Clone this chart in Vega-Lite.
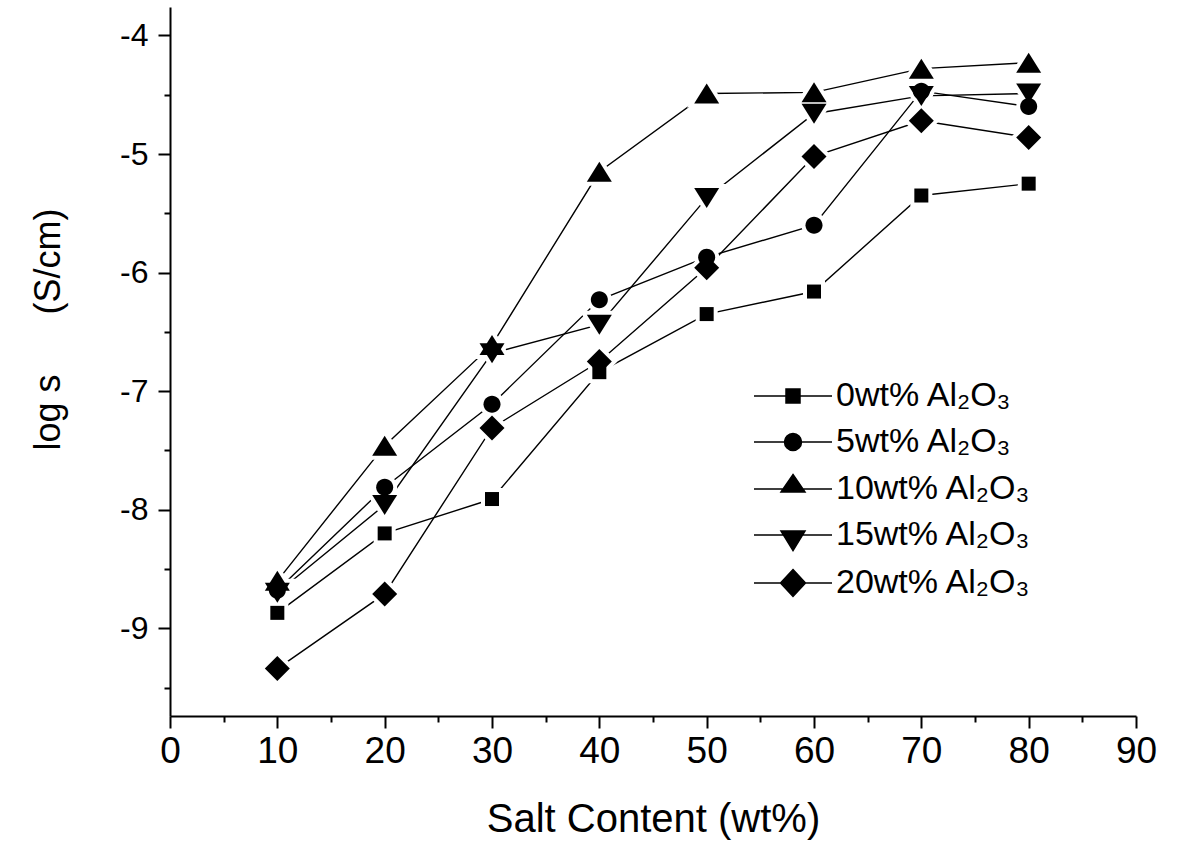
{
  "$schema": "https://vega.github.io/schema/vega-lite/v6.json",
  "width": 966,
  "height": 709,
  "autosize": {"type": "none"},
  "padding": {"left": 170, "top": 7, "right": 64, "bottom": 145},
  "background": "white",
  "config": {
    "view": {"stroke": null},
    "font": "Liberation Sans",
    "axis": {
      "grid": false,
      "domainColor": "black",
      "domainWidth": 2,
      "tickColor": "black",
      "tickWidth": 2,
      "labelColor": "black",
      "titleColor": "black",
      "labelFont": "Liberation Sans",
      "titleFont": "Liberation Sans",
      "titleFontWeight": "normal",
      "labelFlush": false,
      "labelOverlap": false
    }
  },
  "data": {
    "values": [
      {"series": "0wt% Al₂O₃", "x": 10, "y": -8.87},
      {"series": "0wt% Al₂O₃", "x": 20, "y": -8.20},
      {"series": "0wt% Al₂O₃", "x": 30, "y": -7.91},
      {"series": "0wt% Al₂O₃", "x": 40, "y": -6.84},
      {"series": "0wt% Al₂O₃", "x": 50, "y": -6.35},
      {"series": "0wt% Al₂O₃", "x": 60, "y": -6.16},
      {"series": "0wt% Al₂O₃", "x": 70, "y": -5.35},
      {"series": "0wt% Al₂O₃", "x": 80, "y": -5.25},
      {"series": "5wt% Al₂O₃", "x": 10, "y": -8.68},
      {"series": "5wt% Al₂O₃", "x": 20, "y": -7.81},
      {"series": "5wt% Al₂O₃", "x": 30, "y": -7.11},
      {"series": "5wt% Al₂O₃", "x": 40, "y": -6.23},
      {"series": "5wt% Al₂O₃", "x": 50, "y": -5.87},
      {"series": "5wt% Al₂O₃", "x": 60, "y": -5.60},
      {"series": "5wt% Al₂O₃", "x": 70, "y": -4.47},
      {"series": "5wt% Al₂O₃", "x": 80, "y": -4.60},
      {"series": "10wt% Al₂O₃", "x": 10, "y": -8.60},
      {"series": "10wt% Al₂O₃", "x": 20, "y": -7.46},
      {"series": "10wt% Al₂O₃", "x": 30, "y": -6.61},
      {"series": "10wt% Al₂O₃", "x": 40, "y": -5.15},
      {"series": "10wt% Al₂O₃", "x": 50, "y": -4.49},
      {"series": "10wt% Al₂O₃", "x": 60, "y": -4.48},
      {"series": "10wt% Al₂O₃", "x": 70, "y": -4.28},
      {"series": "10wt% Al₂O₃", "x": 80, "y": -4.23},
      {"series": "15wt% Al₂O₃", "x": 10, "y": -8.70},
      {"series": "15wt% Al₂O₃", "x": 20, "y": -7.96},
      {"series": "15wt% Al₂O₃", "x": 30, "y": -6.68},
      {"series": "15wt% Al₂O₃", "x": 40, "y": -6.44},
      {"series": "15wt% Al₂O₃", "x": 50, "y": -5.37},
      {"series": "15wt% Al₂O₃", "x": 60, "y": -4.66},
      {"series": "15wt% Al₂O₃", "x": 70, "y": -4.51},
      {"series": "15wt% Al₂O₃", "x": 80, "y": -4.49},
      {"series": "20wt% Al₂O₃", "x": 10, "y": -9.34},
      {"series": "20wt% Al₂O₃", "x": 20, "y": -8.71},
      {"series": "20wt% Al₂O₃", "x": 30, "y": -7.31},
      {"series": "20wt% Al₂O₃", "x": 40, "y": -6.75},
      {"series": "20wt% Al₂O₃", "x": 50, "y": -5.96},
      {"series": "20wt% Al₂O₃", "x": 60, "y": -5.02},
      {"series": "20wt% Al₂O₃", "x": 70, "y": -4.72},
      {"series": "20wt% Al₂O₃", "x": 80, "y": -4.86}
    ]
  },
  "layer": [
    {
      "mark": {"type": "line", "color": "black", "strokeWidth": 1.4},
      "encoding": {
        "x": {
          "field": "x", "type": "quantitative",
          "scale": {"domain": [0, 90], "nice": false, "zero": false},
          "axis": {
            "orient": "bottom",
            "values": [0, 10, 20, 30, 40, 50, 60, 70, 80, 90],
            "tickSize": 12,
            "labelFontSize": 37,
            "labelPadding": 5,
            "title": "Salt Content (wt%)",
            "titleFontSize": 40,
            "titlePadding": 30
          }
        },
        "y": {
          "field": "y", "type": "quantitative",
          "scale": {"domain": [-9.74, -3.76], "nice": false, "zero": false},
          "axis": {
            "orient": "left",
            "values": [-9, -8, -7, -6, -5, -4],
            "labelExpr": "toString(datum.value)",
            "tickSize": 12,
            "labelFontSize": 32,
            "labelPadding": 10,
            "title": "log s\u00a0\u00a0\u00a0\u00a0\u00a0 (S/cm)",
            "titleFontSize": 36,
            "titleX": -122,
            "titleY": 322,
            "titleAngle": -90,
            "titleAlign": "center",
            "titleBaseline": "middle"
          }
        },
        "detail": {"field": "series", "type": "nominal"}
      }
    },
    {
      "mark": {"type": "point", "filled": true, "fill": "white", "stroke": "white", "strokeWidth": 8, "size": 625, "opacity": 1},
      "encoding": {
        "x": {
          "field": "x", "type": "quantitative",
          "scale": {"domain": [0, 90], "nice": false, "zero": false},
          "axis": {
            "orient": "bottom",
            "values": [5, 15, 25, 35, 45, 55, 65, 75, 85],
            "tickSize": 6,
            "labels": false,
            "domain": false,
            "title": null
          }
        },
        "y": {
          "field": "y", "type": "quantitative",
          "scale": {"domain": [-9.74, -3.76], "nice": false, "zero": false},
          "axis": {
            "orient": "left",
            "values": [-9.5, -8.5, -7.5, -6.5, -5.5, -4.5],
            "tickSize": 6,
            "labels": false,
            "domain": false,
            "title": null
          }
        },
        "shape": {
          "field": "series", "type": "nominal", "legend": null,
          "scale": {
            "domain": ["0wt% Al₂O₃", "5wt% Al₂O₃", "10wt% Al₂O₃", "15wt% Al₂O₃", "20wt% Al₂O₃"],
            "range": [
              "M-0.56,-0.56H0.56V0.56H-0.56Z",
              "M-0.68,0A0.68,0.68,0,1,1,0.68,0A0.68,0.68,0,1,1,-0.68,0Z",
              "M0,-0.8L1,0.8L-1,0.8Z",
              "M0,0.8L1,-0.8L-1,-0.8Z",
              "M0,-1L1,0L0,1L-1,0Z"
            ]
          }
        }
      }
    },
    {
      "mark": {"type": "point", "filled": true, "fill": "black", "strokeWidth": 0, "size": 625, "opacity": 1},
      "encoding": {
        "x": {"field": "x", "type": "quantitative", "scale": {"domain": [0, 90], "nice": false, "zero": false}, "axis": null},
        "y": {"field": "y", "type": "quantitative", "scale": {"domain": [-9.74, -3.76], "nice": false, "zero": false}, "axis": null},
        "shape": {
          "field": "series", "type": "nominal", "legend": null,
          "scale": {
            "domain": ["0wt% Al₂O₃", "5wt% Al₂O₃", "10wt% Al₂O₃", "15wt% Al₂O₃", "20wt% Al₂O₃"],
            "range": [
              "M-0.56,-0.56H0.56V0.56H-0.56Z",
              "M-0.68,0A0.68,0.68,0,1,1,0.68,0A0.68,0.68,0,1,1,-0.68,0Z",
              "M0,-0.8L1,0.8L-1,0.8Z",
              "M0,0.8L1,-0.8L-1,-0.8Z",
              "M0,-1L1,0L0,1L-1,0Z"
            ]
          }
        }
      }
    },
    {
      "data": {"values": []},
      "mark": {"type": "point", "filled": false, "stroke": "black", "strokeWidth": 1.5, "opacity": 1},
      "encoding": {
        "shape": {
          "field": "series", "type": "nominal",
          "scale": {
            "domain": ["0wt% Al₂O₃", "5wt% Al₂O₃", "10wt% Al₂O₃", "15wt% Al₂O₃", "20wt% Al₂O₃"],
            "range": [
              "M-3.9,0H3.9M-0.7,-0.7H0.7V0.7H-0.7Z",
              "M-3.9,0H3.9M-0.85,0A0.85,0.85,0,1,1,0.85,0A0.85,0.85,0,1,1,-0.85,0Z",
              "M-3.9,0H3.9M0,-1.45L1.2,0.3L-1.2,0.3Z",
              "M-3.9,0H3.9M0,1.55L1.2,-0.4L-1.2,-0.4Z",
              "M-3.9,0H3.9M0,-1.35L1.25,0L0,1.35L-1.25,0Z"
            ]
          },
          "legend": {
            "orient": "none",
            "legendX": 606,
            "legendY": 372,
            "title": null,
            "padding": 0,
            "symbolSize": 400,
            "symbolStrokeColor": "black",
            "symbolStrokeWidth": 1.5,
            "symbolOpacity": 1,
            "labelFont": "Liberation Sans",
            "labelFontSize": 34,
            "labelColor": "black",
            "labelOpacity": 0,
            "labelOffset": 26,
            "labelLimit": 0,
            "rowPadding": 12
          }
        }
      }
    },
    {
      "data": {"values": []},
      "mark": {"type": "point", "filled": true, "fill": "black", "opacity": 1},
      "encoding": {
        "shape": {
          "field": "series", "type": "nominal",
          "scale": {
            "domain": ["0wt% Al₂O₃", "5wt% Al₂O₃", "10wt% Al₂O₃", "15wt% Al₂O₃", "20wt% Al₂O₃"],
            "range": [
              "M-3.9,0M3.9,0M-0.7,-0.7H0.7V0.7H-0.7Z",
              "M-3.9,0M3.9,0M-0.85,0A0.85,0.85,0,1,1,0.85,0A0.85,0.85,0,1,1,-0.85,0Z",
              "M-3.9,0M3.9,0M0,-1.45L1.2,0.3L-1.2,0.3Z",
              "M-3.9,0M3.9,0M0,1.55L1.2,-0.4L-1.2,-0.4Z",
              "M-3.9,0M3.9,0M0,-1.35L1.25,0L0,1.35L-1.25,0Z"
            ]
          },
          "legend": {
            "orient": "none",
            "legendX": 606,
            "legendY": 372,
            "title": null,
            "padding": 0,
            "symbolSize": 400,
            "symbolFillColor": "black",
            "symbolOpacity": 1,
            "labelFont": "Liberation Sans",
            "labelFontSize": 34,
            "labelColor": "black",
            "labelOffset": 26,
            "labelLimit": 0,
            "rowPadding": 12
          }
        }
      }
    }
  ],
  "resolve": {
    "scale": {"shape": "independent"},
    "axis": {"x": "independent", "y": "independent"}
  }
}
